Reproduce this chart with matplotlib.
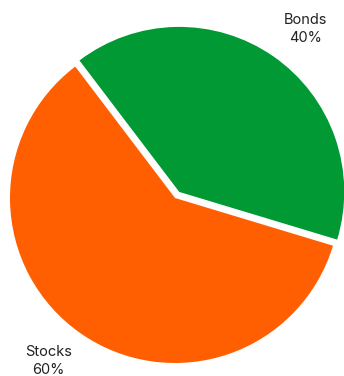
import matplotlib
matplotlib.use("Agg")
import matplotlib.pyplot as plt
import numpy as np

labels = ["Bonds", "Stocks"]
shares = [40, 60]
colors = ["#009933", "#ff5f00"]
explode = [0.045, 0.0]

plt.rcParams['font.family'] = ['Inter', 'DejaVu Sans']

fig = plt.figure(figsize=(3.44, 3.76), dpi=100)
ax = fig.add_axes([10 / 344, 13 / 376, 330 / 344, 330 / 376])

texts = [f"{lab}\n{v}%" for lab, v in zip(labels, shares)]
wedges, label_texts = ax.pie(shares, labels=texts, colors=colors, explode=explode,
                             startangle=-16.8, counterclock=True,
                             textprops=dict(fontsize=10.5, color="#222222"))
# labels sit a bit clockwise of the wedge middle, centred on their point
for w, t in zip(wedges, label_texts):
    w.set_clip_on(False)
    mid = np.deg2rad((w.theta1 + w.theta2) / 2 - 3)
    cx, cy = w.center
    t.set_position((cx + 1.25 * np.cos(mid), cy + 1.25 * np.sin(mid)))
    t.set_ha("center")
    t.set_va("center")
    t.set_linespacing(1.35)

ax.set_xlim(-1, 1)
ax.set_ylim(-1, 1)
ax.set_aspect("equal")
ax.axis("off")

fig.savefig("out.png", dpi=100)
